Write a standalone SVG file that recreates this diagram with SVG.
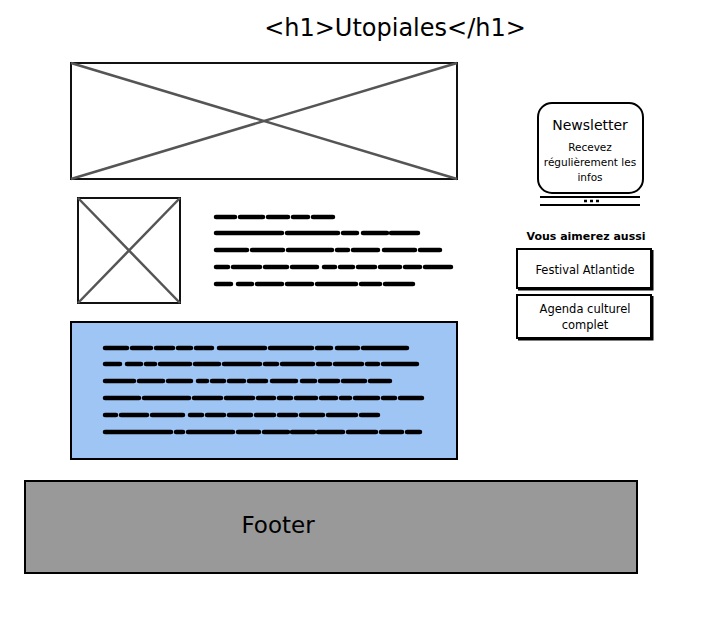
<svg xmlns="http://www.w3.org/2000/svg" width="704" height="619" viewBox="0 0 704 619">
<style>
.box{fill:#fff;stroke:#000;stroke-width:2}
.img{fill:#fff;stroke:#111;stroke-width:2}
.x{stroke:#555;stroke-width:2.5}
.t{font-family:"DejaVu Sans","Liberation Sans",sans-serif;fill:#000;text-anchor:middle}
.sq{stroke:#000;stroke-width:4.5;stroke-linecap:round;fill:none}
.sh{stroke:#000;stroke-width:3;fill:none}
</style>
<rect width="704" height="619" fill="#fff"/>
<g id="title"><text class="t" x="395" y="36" font-size="24">&lt;h1&gt;Utopiales&lt;/h1&gt;</text></g>
<g id="banner-image">
<rect class="img" x="71" y="63" width="386" height="116"/>
<line class="x" x1="71" y1="63" x2="457" y2="179"/>
<line class="x" x1="457" y1="63" x2="71" y2="179"/>
</g>
<g id="thumb-image">
<rect class="img" x="78" y="198" width="102" height="105"/>
<line class="x" x1="78" y1="198" x2="180" y2="303"/>
<line class="x" x1="180" y1="198" x2="78" y2="303"/>
</g>
<g id="intro-text">
<path class="sq" d="M216 217h19M240 217h23M268 217h20M293 217h15M313 217h20"/>
<path class="sq" d="M216 233h66M287 233h51M343 233h14M363 233h24M391 233h27"/>
<path class="sq" d="M216 250h31M252 250h31M288 250h44M337 250h11M353 250h25M384 250h31M420 250h20"/>
<path class="sq" d="M216 267h12M233 267h27M265 267h22M292 267h25M324 267h11M340 267h13M358 267h17M380 267h20M405 267h15M425 267h26"/>
<path class="sq" d="M216 284h15M238 284h14M257 284h25M287 284h25M317 284h39M361 284h19M385 284h28"/>
</g>
<g id="content-block">
<rect x="71" y="322" width="386" height="137" fill="#9ec5f4" stroke="#000" stroke-width="2"/>
<path class="sq" d="M105 348h22M132 348h19M156 348h17M178 348h13M196 348h16M219 348h46M270 348h42M317 348h14M337 348h21M363 348h44"/>
<path class="sq" d="M105 364h15M127 364h14M146 364h9M160 364h30M195 364h24M224 364h36M265 364h12M282 364h31M318 364h12M335 364h27M367 364h11M383 364h34"/>
<path class="sq" d="M105 381h29M139 381h24M168 381h23M198 381h9M212 381h12M229 381h15M249 381h17M272 381h24M302 381h13M320 381h18M343 381h22M370 381h20"/>
<path class="sq" d="M105 398h34M144 398h45M194 398h27M226 398h27M258 398h16M279 398h12M296 398h20M321 398h15M341 398h9M355 398h23M383 398h12M400 398h22"/>
<path class="sq" d="M105 415h11M121 415h26M152 415h31M190 415h12M207 415h17M229 415h22M256 415h18M279 415h17M301 415h22M328 415h28M361 415h17"/>
<path class="sq" d="M105 432h66M176 432h7M188 432h45M238 432h21M264 432h24M292 432h22M318 432h25M348 432h28M381 432h21M407 432h13"/>
</g>
<g id="newsletter">
<rect x="538" y="103" width="105" height="90" rx="14" fill="#fff" stroke="#000" stroke-width="2"/>
<line x1="540" y1="197" x2="640" y2="197" stroke="#000" stroke-width="2"/>
<line x1="540" y1="205" x2="640" y2="205" stroke="#000" stroke-width="2"/>
<path d="M584 201h3M590 201h3M596 201h3" stroke="#000" stroke-width="2.5"/>
<text class="t" x="590" y="130" font-size="14">Newsletter</text>
<text class="t" x="590" y="151" font-size="10.5">Recevez</text>
<text class="t" x="590" y="166" font-size="10.5">régulièrement les</text>
<text class="t" x="590" y="181" font-size="10.5">infos</text>
</g>
<g id="suggestions-title"><text class="t" x="586" y="240" font-size="11" font-weight="bold">Vous aimerez aussi</text></g>
<g id="btn-festival">
<rect class="box" x="517" y="249" width="134" height="39"/>
<path class="sh" d="M652 250v39h-134"/>
<text class="t" x="585" y="274" font-size="11.5">Festival Atlantide</text>
</g>
<g id="btn-agenda">
<rect class="box" x="517" y="295" width="134" height="43"/>
<path class="sh" d="M652 296v43h-134"/>
<text class="t" x="585" y="313" font-size="11.5">Agenda culturel</text>
<text class="t" x="585" y="329" font-size="11.5">complet</text>
</g>
<g id="footer">
<rect x="25" y="481" width="612" height="92" fill="#999" stroke="#000" stroke-width="2"/>
<text class="t" x="278" y="533" font-size="23">Footer</text>
</g>
<g id="connectors"></g>
</svg>
